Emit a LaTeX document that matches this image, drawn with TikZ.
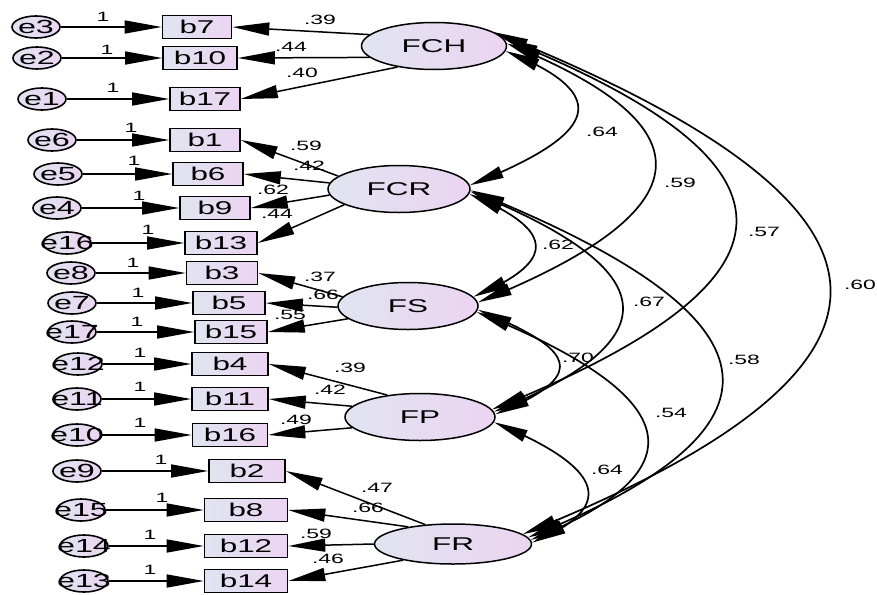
\documentclass[tikz,border=0pt]{standalone}
\usepackage{fontspec}
\setmainfont{Liberation Sans}
\newfontfamily\widefont[FakeStretch=1.7]{Liberation Sans}
\newcommand\zw[1]{\makebox[0pt]{#1}}
\usetikzlibrary{arrows.meta,bending,shapes.geometric}
\definecolor{cL}{RGB}{224,228,240}
\definecolor{cR}{RGB}{236,212,242}
\tikzset{
  obs/.style={rectangle, draw=black, line width=1.6pt, minimum height=23pt, minimum width=72pt, inner sep=0pt, left color=cL, right color=cR, font=\widefont\fontsize{18.5}{18.5}\selectfont},
  err/.style={ellipse, draw=black, line width=1.6pt, minimum width=48pt, minimum height=22pt, inner sep=0pt, left color=cL, right color=cR, font=\widefont\fontsize{19}{19}\selectfont},
  lat/.style={ellipse, draw=black, line width=1.5pt, minimum width=145pt, minimum height=47pt, inner sep=0pt, left color=cL, right color=cR, font=\widefont\fontsize{18.5}{18.5}\selectfont},
  lbl/.style={font=\widefont\fontsize{13.5}{13.5}\selectfont, inner sep=0pt},
  arr/.style={line width=1.5pt, -{Triangle[length=37pt,width=13pt]}},
  cov/.style={line width=1.7pt, {Triangle[length=34pt,width=12pt]}-{Triangle[length=34pt,width=12pt]}}
}
\begin{document}
\begin{tikzpicture}[x=1pt,y=-1pt]
\useasboundingbox (0,0) rectangle (877,594);
% latent variables
\node[lat] (FCH) at (434,46) {FCH};
\node[lat, minimum width=142pt] (FCR) at (399,189) {FCR};
\node[lat, minimum width=140pt] (FS) at (408,306) {FS};
\node[lat, minimum width=150pt] (FP) at (420,417) {FP};
\node[lat, minimum width=157pt, minimum height=40pt] (FR) at (453,544) {FR};
% observed
\node[obs, minimum width=69pt] (b7) at (197,27) {b7};
\node[obs, minimum width=74pt] (b10) at (200,58) {b10};
\node[obs, minimum width=70pt] (b17) at (205,99) {b17};
\node[obs, minimum width=70pt] (b1) at (205,140) {b1};
\node[obs, minimum width=70pt] (b6) at (208,174) {b6};
\node[obs, minimum width=70pt] (b9) at (215,208) {b9};
\node[obs, minimum width=72pt] (b13) at (221,243) {b13};
\node[obs, minimum width=71pt] (b3) at (222,273) {b3};
\node[obs, minimum width=72pt] (b5) at (229,303) {b5};
\node[obs, minimum width=72pt] (b15) at (231,332) {b15};
\node[obs, minimum width=76pt] (b4) at (230,364) {b4};
\node[obs, minimum width=76pt] (b11) at (230,399) {b11};
\node[obs, minimum width=75pt] (b16) at (230,435) {b16};
\node[obs, minimum width=76pt] (b2) at (247,471) {b2};
\node[obs, minimum width=83pt] (b8) at (246,510) {b8};
\node[obs, minimum width=83pt] (b12) at (246,546) {b12};
\node[obs, minimum width=83pt] (b14) at (246,581) {b14};
% errors
\node[err] (e3) at (36,27) {\zw{e3}};
\node[err] (e2) at (37,58) {\zw{e2}};
\node[err] (e1) at (42,99) {\zw{e1}};
\node[err] (e6) at (52,140) {\zw{e6}};
\node[err] (e5) at (58,174) {\zw{e5}};
\node[err] (e4) at (57,208) {\zw{e4}};
\node[err] (e16) at (67,243) {\zw{e16}};
\node[err] (e8) at (71,273) {\zw{e8}};
\node[err] (e7) at (72,303) {\zw{e7}};
\node[err] (e17) at (72,332) {\zw{e17}};
\node[err] (e12) at (78,364) {\zw{e12}};
\node[err] (e11) at (77,399) {\zw{e11}};
\node[err] (e10) at (77,435) {\zw{e10}};
\node[err] (e9) at (77,471) {\zw{e9}};
\node[err] (e15) at (81,510) {\zw{e15}};
\node[err] (e14) at (84,546) {\zw{e14}};
\node[err] (e13) at (84,581) {\zw{e13}};
% error arrows
\foreach \e/\b in {e3/b7,e2/b10,e1/b17,e6/b1,e5/b6,e4/b9,e16/b13,e8/b3,e7/b5,e17/b15,e12/b4,e11/b11,e10/b16,e9/b2,e15/b8,e14/b12,e13/b14}
  \draw[arr] (\e) -- (\b);
% loadings
\draw[arr] (FCH.170) -- (b7.east);
\draw[arr] (FCH.190) -- (b10.east);
\draw[arr] (FCH.210) -- (b17.east);
\draw[arr] (FCR.168) -- (b1.east);
\draw[arr] (FCR.175) -- (b6.east);
\draw[arr] (FCR.185) -- (b9.east);
\draw[arr] (FCR.196) -- (b13.east);
\draw[arr] (FS.172) -- (b3.east);
\draw[arr] (FS.181) -- (b5.east);
\draw[arr] (FS.192) -- (b15.east);
\draw[arr] (FP.146) -- (b4.east);
\draw[arr] (FP.171) -- (b11.east);
\draw[arr] (FP.189) -- (b16.east);
\draw[arr] (FR.145) -- (b2.east);
\draw[arr] (FR.159) -- (b8.east);
\draw[arr] (FR.180) -- (b12.east);
\draw[arr] (FR.198) -- (b14.east);
% covariances
\draw[cov] (FCH.-4) .. controls +(118,47) and +(118,-47) .. (FCR.3);
\draw[cov] (FCH.2) .. controls +(217,87) and +(217,-87) .. (FS.3);
\draw[cov] (FCH.6) .. controls +(318,127) and +(318,-127) .. (FP.6);
\draw[cov] (FCH.13) .. controls +(429,172) and +(429,-172) .. (FR.8);
\draw[cov] (FCR.-4) .. controls +(86,36) and +(86,-36) .. (FS.8);
\draw[cov] (FCR.-2) .. controls +(187,75) and +(187,-75) .. (FP.4);
\draw[cov] (FCR.-1) .. controls +(295,118) and +(295,-118) .. (FR.5);
\draw[cov] (FS.-3) .. controls +(97,40) and +(97,-40) .. (FP.2);
\draw[cov] (FS.-5) .. controls +(189,76) and +(189,-76) .. (FR.3);
\draw[cov] (FP.-4) .. controls +(97,40) and +(97,-40) .. (FR.1);
% "1" labels
\node[lbl] (o1) at (103,17) {1};
\node[lbl] (o2) at (107,50) {1};
\node[lbl] (o3) at (113,88) {1};
\node[lbl] (o4) at (131,128) {1};
\node[lbl] (o5) at (134,161) {1};
\node[lbl] (o6) at (139,196) {1};
\node[lbl] (o7) at (148,230) {1};
\node[lbl] (o8) at (133,263) {1};
\node[lbl] (o9) at (138,293) {1};
\node[lbl] (o10) at (137,322) {1};
\node[lbl] (o11) at (140,353) {1};
\node[lbl] (o12) at (140,387) {1};
\node[lbl] (o13) at (140,423) {1};
\node[lbl] (o14) at (161,460) {1};
\node[lbl] (o15) at (162,498) {1};
\node[lbl] (o16) at (150,535) {1};
\node[lbl] (o17) at (150,570) {1};
% loading labels
\node[lbl] (l1) at (320,20) {.39};
\node[lbl] (l2) at (291,47) {.44};
\node[lbl] (l3) at (302,73) {.40};
\node[lbl] (l4) at (306,146) {.59};
\node[lbl] (l5) at (309,166) {.42};
\node[lbl] (l6) at (273,190) {.62};
\node[lbl] (l7) at (277,214) {.44};
\node[lbl] (l8) at (320,277) {.37};
\node[lbl] (l9) at (323,295) {.66};
\node[lbl] (l10) at (290,315) {.55};
\node[lbl] (l11) at (350,368) {.39};
\node[lbl] (l12) at (330,390) {.42};
\node[lbl] (l13) at (296,420) {.49};
\node[lbl] (l14) at (377,488) {.47};
\node[lbl] (l15) at (368,508) {.66};
\node[lbl] (l16) at (316,534) {.59};
\node[lbl] (l17) at (328,559) {.46};
% covariance labels
\node[lbl] (c1) at (602,132) {.64};
\node[lbl] (c2) at (680,183) {.59};
\node[lbl] (c3) at (764,232) {.57};
\node[lbl] (c4) at (860,285) {.60};
\node[lbl] (c5) at (558,245) {.62};
\node[lbl] (c6) at (649,302) {.67};
\node[lbl] (c7) at (578,358) {.70};
\node[lbl] (c8) at (744,360) {.58};
\node[lbl] (c9) at (671,413) {.54};
\node[lbl] (c10) at (607,470) {.64};
\end{tikzpicture}
\end{document}
